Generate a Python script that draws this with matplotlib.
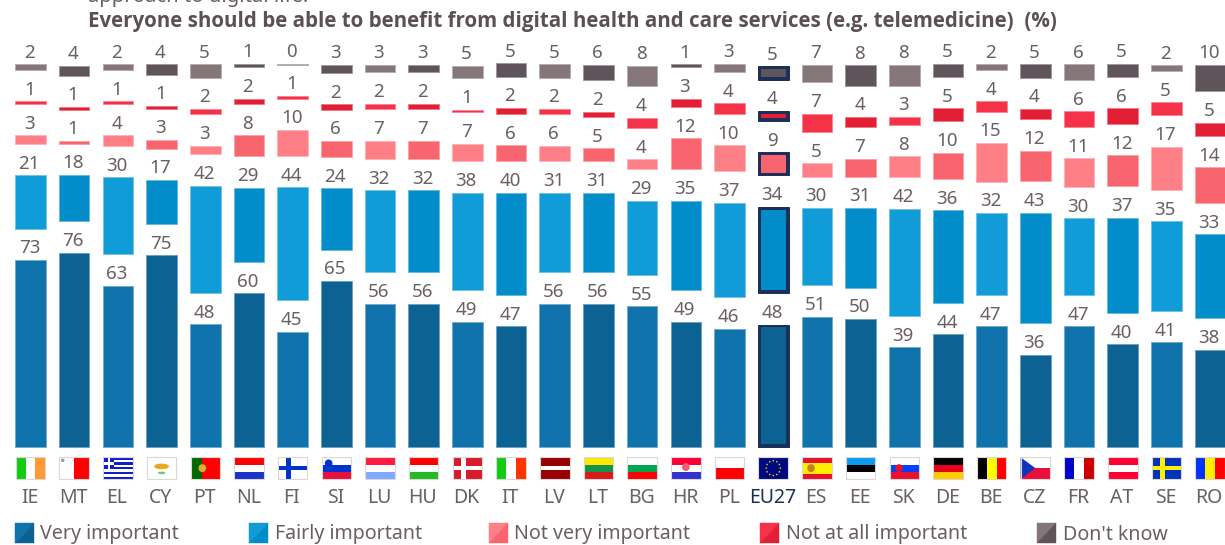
"""Stacked share of answers per country, with a gap between the answer groups."""

import matplotlib
matplotlib.use("Agg")
import numpy as np
import matplotlib.pyplot as plt
from matplotlib.colors import to_rgb
from matplotlib.patches import Ellipse, Polygon, Rectangle

plt.rcParams["font.family"] = ["Noto Sans", "DejaVu Sans"]

# ---------------------------------
# Data
# ---------------------------------
countries = ["IE", "MT", "EL", "CY", "PT", "NL", "FI", "SI", "LU", "HU", "DK", "IT", "LV", "LT",
             "BG", "HR", "PL", "EU27", "ES", "EE", "SK", "DE", "BE", "CZ", "FR", "AT", "SE", "RO"]

very_important = [73.0, 75.9, 63.0, 74.9, 47.9, 60.0, 45.1, 64.8, 56.0, 56.0, 49.0, 47.1, 56.0, 56.0,
                  54.9, 49.0, 46.1, 47.8, 50.8, 50.0, 38.9, 44.0, 47.1, 36.1, 47.1, 40.1, 40.9, 37.9]
fairly_important = [20.8, 18.0, 30.1, 17.1, 41.9, 29.0, 44.1, 24.0, 32.0, 32.0, 38.0, 40.0, 31.0, 31.0,
                    28.9, 34.9, 37.0, 33.7, 30.2, 31.0, 41.9, 36.1, 32.0, 43.1, 29.9, 37.1, 34.9, 32.9]
not_very_important = [3.3, 1.0, 4.0, 3.3, 3.3, 8.1, 10.0, 6.1, 7.0, 7.0, 6.9, 6.1, 6.1, 5.1,
                      4.0, 12.1, 10.2, 9.0, 5.2, 7.0, 8.1, 10.2, 15.0, 12.0, 11.1, 12.1, 16.8, 13.9]
not_at_all_important = [1.0, 1.0, 1.0, 1.0, 2.0, 2.1, 1.0, 2.1, 2.1, 2.1, 1.0, 2.3, 2.0, 2.0,
                        4.0, 3.1, 4.0, 3.8, 7.0, 4.0, 3.1, 5.1, 4.0, 3.9, 6.1, 6.1, 5.1, 5.1]
dont_know = [2.2, 3.9, 2.2, 4.0, 5.2, 1.2, 0.4, 3.1, 3.1, 3.1, 4.9, 5.2, 5.2, 6.1,
             7.9, 1.2, 3.3, 5.2, 6.9, 7.9, 8.1, 5.2, 2.2, 5.2, 6.1, 5.2, 2.2, 10.2]

series_names = ["Very important", "Fairly important", "Not very important", "Not at all important", "Don't know"]
series_values = [very_important, fairly_important, not_very_important, not_at_all_important, dont_know]

title = "Everyone should be able to benefit from digital health and care services (e.g. telemedicine)  (%)"
clipped_line = "approach to digital life."

# ---------------------------------
# Style
# ---------------------------------
# (even column, odd column)
series_colors = [("#1173AB", "#0C6293"), ("#119BD7", "#028DCA"), ("#FF7F87", "#F8656F"),
                 ("#F63248", "#E31F35"), ("#85767A", "#5F545A")]
TEXT = "#6A5F64"
NAVY = "#1B3058"

WIDTH, HEIGHT = 1225, 545
BASE_PX = 447       # pixel row of the zero line
UNIT_PX = 2.56      # pixels per percentage point
STEP_PX = 43.69     # pixels between columns
FIRST_PX = 30.5     # centre of the first column
GAP = 12.3          # white gap between groups, in percentage points
BAR_W = 30.6 / STEP_PX


def px_x(px):
    return (px - FIRST_PX) / STEP_PX


def px_y(px):
    return (BASE_PX - px) / UNIT_PX


def lighten(color, amount=0.4):
    return tuple(c + (1 - c) * amount for c in to_rgb(color))


# ---------------------------------
# Flags
# ---------------------------------
STRIPES = {
    "IE": ("v", ["#11CC11", "#FFFFFF", "#FF9933"]),
    "MT": ("v", ["#FFFFFF", "#FF0000"]),
    "CY": ("h", ["#FFFFFF"]),
    "NL": ("h", ["#FF0000", "#FFFFFF", "#1A33CC"]),
    "SI": ("h", ["#FFFFFF", "#0033CC", "#E8103A"]),
    "LU": ("h", ["#FF1A40", "#FFFFFF", "#80AAFF"]),
    "HU": ("h", ["#FF0000", "#FFFFFF", "#22BB22"]),
    "IT": ("v", ["#11CC11", "#FFFFFF", "#FF3300"]),
    "LV": ("h", ["#990000", "#990000", "#FFFFFF", "#990000", "#990000"]),
    "LT": ("h", ["#FFE800", "#15924A", "#D81A1A"]),
    "BG": ("h", ["#FFFFFF", "#00A651", "#FF0000"]),
    "HR": ("h", ["#FF0033", "#FFFFFF", "#3333CC"]),
    "PL": ("h", ["#FFFFFF", "#FF0000"]),
    "ES": ("h", ["#E8102A", "#FFEE00", "#FFEE00", "#E8102A"]),
    "EE": ("h", ["#0A9AF0", "#000000", "#FFFFFF"]),
    "SK": ("h", ["#FFFFFF", "#0040FF", "#EE1030"]),
    "DE": ("h", ["#000000", "#E8001C", "#FFCC00"]),
    "BE": ("v", ["#000000", "#FFFF00", "#FF0000"]),
    "CZ": ("h", ["#FFFFFF", "#E8103A"]),
    "FR": ("v", ["#0000CC", "#FFFFFF", "#CC0000"]),
    "AT": ("h", ["#FF0033", "#FFFFFF", "#FF0033"]),
    "RO": ("v", ["#0033FF", "#FFEE00", "#FF0000"]),
    "PT": ("v", ["#006600", "#006600", "#FF0000", "#FF0000", "#FF0000"]),
    "EL": ("h", ["#0D1ED0", "#FFFFFF"] * 4 + ["#0D1ED0"]),
    "FI": ("h", ["#FFFFFF"]),
    "DK": ("h", ["#D91A2A"]),
    "SE": ("h", ["#0033BB"]),
    "EU27": ("h", ["#000A80"]),
}
CROSSES = {"FI": "#0033CC", "DK": "#FFFFFF", "SE": "#FFEE00"}
BADGES = {"PT": (0.40, 0.5, "#D8B030"), "SI": (0.24, 0.28, "#0033CC"), "HR": (0.5, 0.45, "#E8607A"),
          "ES": (0.30, 0.5, "#C8801A"), "SK": (0.32, 0.5, "#E8102A"), "MT": (0.11, 0.14, "#999999")}


def draw_flag(ax, code, i):
    """Draw one small flag under column i, in data units."""
    x0 = i - 14.75 / STEP_PX
    y0 = px_y(479)
    w = 29.5 / STEP_PX
    h = 21.7 / UNIT_PX
    to_x = lambda u: x0 + u * w
    to_y = lambda v: y0 + (1 - v) * h

    def rect(u0, v0, u1, v1, color):
        ax.add_patch(Rectangle((to_x(u0), to_y(v1)), (u1 - u0) * w, (v1 - v0) * h,
                               facecolor=color, edgecolor="none", zorder=3))

    kind, colors = STRIPES[code]
    n = len(colors)
    for k, color in enumerate(colors):
        if kind == "h":
            rect(0, k / n, 1, (k + 1) / n, color)
        else:
            rect(k / n, 0, (k + 1) / n, 1, color)

    if code in CROSSES:
        rect(0.28, 0, 0.46, 1, CROSSES[code])
        rect(0, 0.40, 1, 0.60, CROSSES[code])
    if code == "EL":
        rect(0, 0, 0.38, 5 / 9, "#0D1ED0")
        rect(0.15, 0, 0.23, 5 / 9, "#FFFFFF")
        rect(0, 2 / 9, 0.38, 3 / 9, "#FFFFFF")
    if code == "CZ":
        ax.add_patch(Polygon([(to_x(0), to_y(0)), (to_x(0.5), to_y(0.5)), (to_x(0), to_y(1))],
                             facecolor="#1133BB", edgecolor="none", zorder=3))
    if code == "CY":
        ax.add_patch(Ellipse((to_x(0.5), to_y(0.42)), 0.5 * w, 0.26 * h,
                             facecolor="#E8A91A", edgecolor="none", zorder=4))
        ax.add_patch(Ellipse((to_x(0.5), to_y(0.72)), 0.26 * w, 0.12 * h,
                             facecolor="#7CC47C", edgecolor="none", zorder=4))
    if code == "EU27":
        for a in np.arange(12) * np.pi / 6:
            ax.add_patch(Ellipse((to_x(0.5 + 0.24 * np.cos(a)), to_y(0.5 + 0.34 * np.sin(a))),
                                 0.05 * w, 0.07 * h, facecolor="#FFEE00", edgecolor="none", zorder=4))
    if code in BADGES:
        u, v, color = BADGES[code]
        size = 0.26 if code != "MT" else 0.12
        ax.add_patch(Ellipse((to_x(u), to_y(v)), size * w, size * 1.4 * h,
                             facecolor=color, edgecolor="none", zorder=4))
    ax.add_patch(Rectangle((x0, y0), w, h, facecolor="none", edgecolor="#DDD6D6", linewidth=0.8, zorder=5))


# ---------------------------------
# Figure
# ---------------------------------
fig = plt.figure(figsize=(WIDTH / 100, HEIGHT / 100), dpi=100)
ax = fig.add_axes([0, 0, 1, 1])
ax.set_xlim(px_x(0), px_x(WIDTH))
ax.set_ylim(px_y(HEIGHT), px_y(0))
ax.axis("off")

x = np.arange(len(countries))
eu = countries.index("EU27")
border_x = 2.7 / STEP_PX
border_y = 2.7 / UNIT_PX

bottom = np.zeros(len(countries))
for values, (light, dark) in zip(series_values, series_colors):
    values = np.array(values)
    colors = [light if i % 2 == 0 else dark for i in x]
    edges = [lighten(c) for c in colors]
    edges[eu] = NAVY
    faces = list(colors)
    faces[eu] = NAVY
    ax.bar(x, values, BAR_W, bottom=bottom, color=faces, edgecolor=edges, linewidth=0.7, zorder=2)
    # EU27 keeps the series colour inside a navy frame
    ax.bar(x[eu], values[eu] - 2 * border_y, BAR_W - 2 * border_x, bottom=bottom[eu] + border_y,
           color=colors[eu], linewidth=0, zorder=3)
    for i, v in enumerate(values):
        ax.text(i - 0.025, bottom[i] + v + 2.6, f"{v:.0f}", ha="center", va="baseline",
                fontsize=13.5, color=TEXT, zorder=4)
    bottom = bottom + values + GAP

for i, code in enumerate(countries):
    draw_flag(ax, code, i)
    ax.text(i - 0.02, px_y(498), code, ha="center", va="center", fontsize=14,
            color=NAVY if code == "EU27" else TEXT)

ax.text(px_x(88), px_y(27), title, ha="left", va="baseline", fontsize=14.8, fontweight="bold",
        family=["Open Sans", "DejaVu Sans"], color="#5B5056")
ax.text(px_x(88), px_y(2), clipped_line, ha="left", va="baseline", fontsize=14.6, color=TEXT)

# ---------------------------------
# Legend
# ---------------------------------
swatch_px = [15, 249, 488.5, 760, 1036.5]
label_px = [40, 275, 514, 785.5, 1063]
for name, (light, dark), sx, lx in zip(series_names, series_colors, swatch_px, label_px):
    x0, x1 = px_x(sx), px_x(sx + 19)
    y0, y1 = px_y(542.5), px_y(523)
    ax.add_patch(Polygon([(x0, y0), (x0, y1), (x1, y1)], facecolor=light, edgecolor=light, linewidth=0.3))
    ax.add_patch(Polygon([(x0, y0), (x1, y0), (x1, y1)], facecolor=dark, edgecolor=dark, linewidth=0.3))
    ax.text(px_x(lx), px_y(534.5), name, ha="left", va="center", fontsize=14.15, color=TEXT)

fig.savefig("out.png", dpi=100)
